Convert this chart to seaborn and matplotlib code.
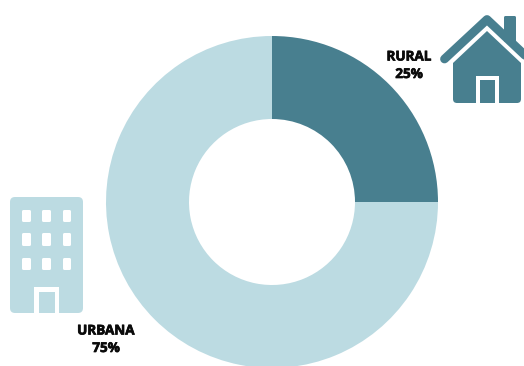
import matplotlib
matplotlib.use("Agg")
import matplotlib.pyplot as plt
import matplotlib.patheffects as pe
from matplotlib.patches import FancyBboxPatch, Polygon, Rectangle
from matplotlib.lines import Line2D
import seaborn as sns

categories = ["RURAL", "URBANA"]
shares = [25, 75]
colors = ["#487F8F", "#BCDBE2"]

sns.set_theme(style="white")
plt.rcParams["font.family"] = ["Open Sans", "DejaVu Sans"]

W, H = 524, 366
fig = plt.figure(figsize=(W / 100, H / 100), dpi=100, facecolor="white")
ax = fig.add_axes([0, 0, 1, 1])

# Donut, running clockwise from twelve o'clock
ax.pie(shares, colors=colors, startangle=90, counterclock=False,
       center=(272, H - 202), radius=166, frame=True,
       wedgeprops={"width": 83, "linewidth": 0})

ax.set_xlim(0, W)
ax.set_ylim(0, H)
ax.set_aspect("equal")
ax.axis("off")


def Y(y):
    return H - y


def rounded(x0, y0, x1, y1, r, color, z=3):
    ax.add_patch(FancyBboxPatch((x0 + r, Y(y1) + r), x1 - x0 - 2 * r, y1 - y0 - 2 * r,
                                boxstyle=f"round,pad={r},rounding_size={r}",
                                fc=color, ec="none", zorder=z))


def block(x0, y0, x1, y1, color, z=4):
    ax.add_patch(Rectangle((x0, Y(y1)), x1 - x0, y1 - y0, fc=color, ec="none", zorder=z))


# House icon: body, gable, chimney, roof stroke, door
dark = colors[0]
rounded(453, 70, 521, 103, 4, dark)
ax.add_patch(Polygon([(453, Y(63)), (487, Y(31)), (521, Y(63)), (521, Y(80)), (453, Y(80))],
                     closed=True, fc=dark, ec="none", zorder=3))
rounded(504, 16, 516, 42, 1.5, dark)
ax.add_line(Line2D([444.5, 487, 530], [Y(59), Y(19.5), Y(60)], color=dark, lw=6.3,
                   solid_capstyle="round", solid_joinstyle="round", zorder=3))
block(476, 76, 499, 104, "white")
block(480, 80, 495, 103, dark, z=5)

# Apartment block icon: body, nine windows, door
light = colors[1]
rounded(10, 197, 83, 313, 5, light)
for wx0, wx1 in [(22, 31), (42, 51), (63, 71)]:
    for wy0, wy1 in [(210, 222), (233, 246), (258, 270)]:
        rounded(wx0, wy0, wx1, wy1, 1.5, "white", z=4)
block(34, 287, 59, 314, "white")
block(39, 292, 55, 313, light, z=5)

# Category labels, slightly emboldened with a thin outline
heavy = [pe.withStroke(linewidth=0.5, foreground="#0A0A0A")]
label_pos = {"RURAL": (409, 57), "URBANA": (106, 331)}
for name, share in zip(categories, shares):
    x, y = label_pos[name]
    ax.text(x, Y(y), name, ha="center", va="center", fontsize=9.7,
            fontweight="bold", color="#0A0A0A", zorder=6, path_effects=heavy)
    ax.text(x, Y(y + 17.5), f"{share}%", ha="center", va="center", fontsize=9.7,
            fontweight="bold", color="#0A0A0A", zorder=6, path_effects=heavy)

fig.savefig("out.png", dpi=100, facecolor="white")
